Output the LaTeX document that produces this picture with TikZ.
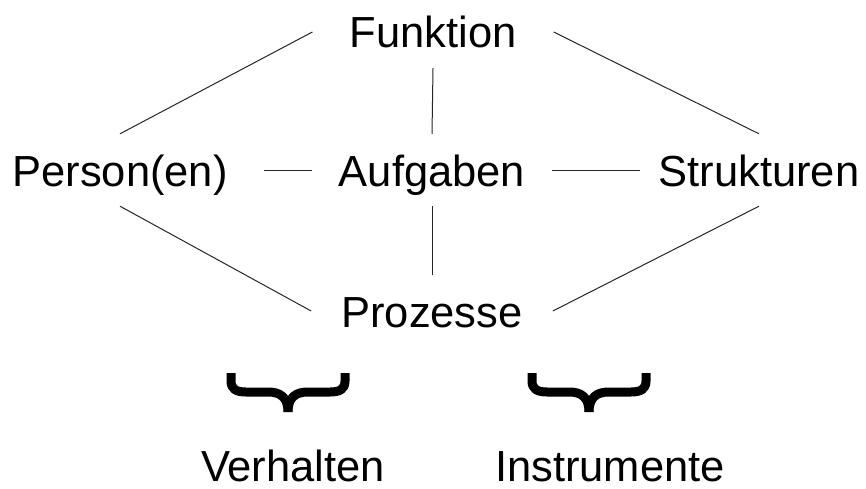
\documentclass[tikz,border=0pt]{standalone}
\usepackage{fontspec}
\setmainfont{Liberation Sans}
\begin{document}
\begin{tikzpicture}[x=1pt,y=-1pt,
  lbl/.style={anchor=base, inner ysep=20pt, text height=32pt, text depth=0pt,
    font=\fontsize{43.5}{50}\selectfont},
  conn/.style={draw=black!85, line width=1pt},
  bracestroke/.style={draw=black, line width=9pt, line cap=butt, line join=round}]
\path[use as bounding box] (0,0) rectangle (866,489);
\node[lbl, inner xsep=37pt] (f) at (433,48) {Funktion};
\node[lbl, inner xsep=36pt] (p) at (120,186) {Person(en)};
\node[lbl, inner xsep=27pt] (a) at (432,186) {Aufgaben};
\node[lbl, inner xsep=18pt] (s) at (759,186) {Strukturen};
\node[lbl, inner xsep=30pt] (z) at (432,327) {Prozesse};
\node[lbl, inner ysep=0pt] (v) at (293,481) {Verhalten};
\node[lbl, inner ysep=0pt] (i) at (610,481) {Instrumente};
\draw[conn] (f.west) -- (p.north);
\draw[conn] (f.east) -- (s.north);
\draw[conn] (f.south) -- (a.north);
\draw[conn] (p.east) -- (a.west);
\draw[conn] (a.east) -- (s.west);
\draw[conn] (p.south) -- (z.west);
\draw[conn] (a.south) -- (z.north);
\draw[conn] (s.south) -- (z.east);
\foreach \cx in {288,589}{
  \begin{scope}[shift={(\cx,0)}]
    \draw[bracestroke] (-57,373) -- (-57,381) .. controls (-57,389) and (-52,392) .. (-42,392)
      -- (-20,392) .. controls (-8,392) and (0,397) .. (0,412);
    \draw[bracestroke] (57,373) -- (57,381) .. controls (57,389) and (52,392) .. (42,392)
      -- (20,392) .. controls (8,392) and (0,397) .. (0,412);
  \end{scope}
}
\end{tikzpicture}
\end{document}
